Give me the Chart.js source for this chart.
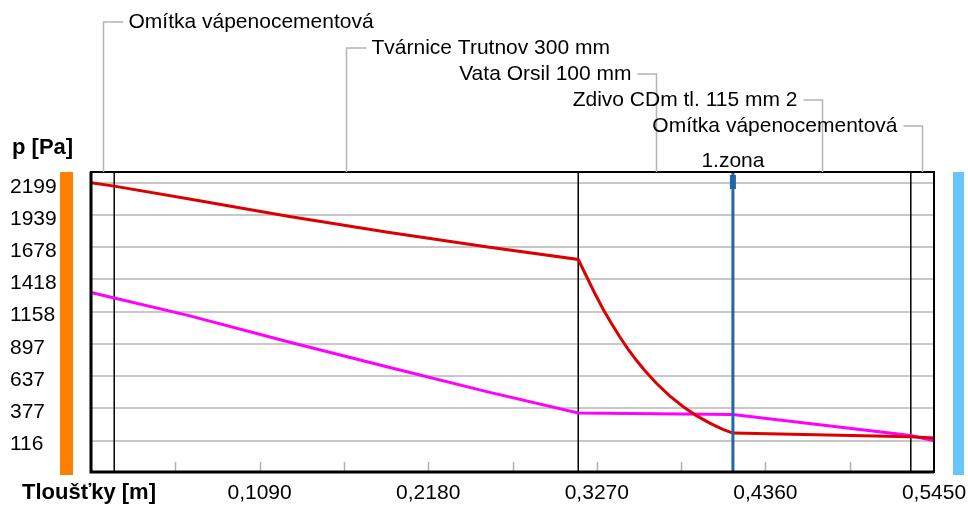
<!DOCTYPE html>
<html>
<head>
<meta charset="utf-8">
<script src="https://cdn.jsdelivr.net/npm/chart.js@4.4.0/dist/chart.umd.min.js"></script>
<style>
  html, body { margin: 0; padding: 0; background: #fff; }
  #wrap { width: 968px; height: 505px; }
</style>
</head>
<body>
<div id="wrap"><canvas id="chart" width="968" height="505"></canvas></div>
<script>
// Layers of the wall (thickness in m)
const layerBounds = [0, 0.015, 0.315, 0.415, 0.530, 0.545];
const layerNames = ['Omítka vápenocementová', 'Tvárnice Trutnov 300 mm', 'Vata Orsil 100 mm', 'Zdivo CDm tl. 115 mm 2', 'Omítka vápenocementová'];

// Condensation zone boundary
const zoneX = [0.415];
const zoneNames = ['1.zona'];

// Axis ticks
const yTicks = [116, 377, 637, 897, 1158, 1418, 1678, 1939, 2199];
const xLabelTicks = [0.109, 0.218, 0.327, 0.436, 0.545];
const xMinorTicks = [0.0545, 0.109, 0.1635, 0.218, 0.2725, 0.327, 0.3815, 0.436, 0.4905];

// Saturated vapour pressure (red)
const satX = [0, 0.015, 0.0627, 0.1273, 0.1919, 0.2565, 0.315, 0.3203, 0.3256, 0.331, 0.3364, 0.3418, 0.3472, 0.3526, 0.358, 0.3655, 0.3741, 0.3827, 0.3914, 0.400, 0.4085, 0.415, 0.530, 0.545];
const satP = [2199, 2172, 2070, 1929, 1800, 1681, 1580, 1444, 1309, 1180, 1065, 955, 855, 765, 683, 580, 478, 392, 318, 258, 208, 177, 148, 137];

// Partial vapour pressure (magenta)
const parX = [0, 0.015, 0.0627, 0.1273, 0.1919, 0.2565, 0.315, 0.415, 0.530, 0.545];
const parP = [1314, 1269, 1128, 915, 711, 510, 339, 327, 158, 116];

const FONT = "'Liberation Sans', Arial, sans-serif";

function toPoints(xs, ys) {
    return xs.map((x, i) => ({ x: x, y: ys[i] }));
}

const overlay = {
    id: 'overlay',
    beforeDatasetsDraw(chart) {
        const { ctx, chartArea: a, scales: { x } } = chart;
        ctx.save();
        // small tick marks at the bottom of the plot
        ctx.strokeStyle = '#b0b0b0';
        ctx.lineWidth = 1.5;
        xMinorTicks.forEach(v => {
            const px = Math.round(x.getPixelForValue(v)) + 0.5;
            ctx.beginPath();
            ctx.moveTo(px, a.bottom - 10);
            ctx.lineTo(px, a.bottom - 1);
            ctx.stroke();
        });
        // layer boundaries
        ctx.strokeStyle = '#000';
        ctx.lineWidth = 1.5;
        layerBounds.slice(1, -1).forEach(v => {
            const px = x.getPixelForValue(v);
            ctx.beginPath();
            ctx.moveTo(px, a.top);
            ctx.lineTo(px, a.bottom);
            ctx.stroke();
        });
        ctx.restore();
    },
    afterDatasetsDraw(chart) {
        const { ctx, chartArea: a, scales: { x } } = chart;
        ctx.save();

        // zone line
        zoneX.forEach((v, i) => {
            const px = x.getPixelForValue(v);
            ctx.strokeStyle = '#2366a6';
            ctx.lineWidth = 3;
            ctx.beginPath();
            ctx.moveTo(px, a.top);
            ctx.lineTo(px, a.bottom);
            ctx.stroke();
            ctx.fillStyle = '#2366a6';
            ctx.fillRect(px - 3, a.top + 3, 6, 14);
            ctx.fillStyle = '#000';
            ctx.font = '21px ' + FONT;
            ctx.textAlign = 'center';
            ctx.textBaseline = 'middle';
            ctx.fillText(zoneNames[i], px, a.top - 11);
        });

        // plot frame
        ctx.strokeStyle = '#000';
        ctx.lineWidth = 2;
        ctx.strokeRect(a.left, a.top, a.right - a.left, a.bottom - a.top);
        ctx.lineWidth = 3;
        ctx.beginPath();
        ctx.moveTo(a.left, a.top);
        ctx.lineTo(a.left, a.bottom);
        ctx.lineTo(a.right, a.bottom);
        ctx.stroke();

        // side bars (interior / exterior)
        ctx.fillStyle = '#ff8000';
        ctx.fillRect(a.left - 31, a.top, 13, a.bottom - a.top + 3);
        ctx.fillStyle = '#66c6ff';
        ctx.fillRect(a.right + 19, a.top, 11, a.bottom - a.top + 3);

        // layer labels with connectors
        ctx.font = '21px ' + FONT;
        ctx.textBaseline = 'middle';
        layerNames.forEach((name, i) => {
            const cx = Math.round(x.getPixelForValue((layerBounds[i] + layerBounds[i + 1]) / 2)) + 0.5;
            const ly = 22 + 26 * i;
            const toRight = i < 2;
            const hx = toRight ? cx + 20 : cx - 19;
            ctx.strokeStyle = '#b4b4b4';
            ctx.lineWidth = 1.5;
            ctx.beginPath();
            ctx.moveTo(cx, a.top);
            ctx.lineTo(cx, ly);
            ctx.lineTo(hx, ly);
            ctx.stroke();
            ctx.fillStyle = '#000';
            ctx.textAlign = toRight ? 'left' : 'right';
            ctx.fillText(name, toRight ? hx + 5 : hx - 6, ly);
        });

        // axis titles
        ctx.font = 'bold 22px ' + FONT;
        ctx.textAlign = 'left';
        ctx.fillStyle = '#000';
        ctx.fillText('p [Pa]', 12, 148);
        ctx.fillText('Tloušťky [m]', 22, 493);
        ctx.restore();
    }
};

const chart = new Chart(document.getElementById('chart'), {
    type: 'line',
    data: {
        datasets: [{
            label: 'p sat',
            data: toPoints(satX, satP),
            borderColor: '#dc0000',
            borderWidth: 3,
            pointRadius: 0,
            tension: 0
        }, {
            label: 'p',
            data: toPoints(parX, parP),
            borderColor: '#ff00ff',
            borderWidth: 3,
            pointRadius: 0,
            tension: 0
        }]
    },
    options: {
        responsive: false,
        animation: false,
        layout: { padding: { left: 10, right: 34, top: 172, bottom: 0 } },
        plugins: {
            legend: { display: false },
            tooltip: { enabled: false }
        },
        scales: {
            x: {
                type: 'linear',
                min: 0,
                max: 0.545,
                afterBuildTicks: s => { s.ticks = xLabelTicks.map(v => ({ value: v })); },
                afterFit: s => { s.height = 33; s.paddingLeft = 0; s.paddingRight = 0; },
                grid: { display: false },
                border: { display: false },
                ticks: {
                    color: '#000',
                    font: { family: FONT, size: 21 },
                    padding: 1,
                    maxRotation: 0,
                    autoSkip: false,
                    callback: v => v.toFixed(4).replace('.', ',')
                }
            },
            y: {
                min: -137,
                max: 2286,
                afterBuildTicks: s => { s.ticks = yTicks.map(v => ({ value: v })); },
                afterFit: s => { s.width = 81; s.paddingTop = 0; s.paddingBottom = 0; },
                grid: { color: '#c8c8c8', lineWidth: 2, drawTicks: false },
                border: { display: false },
                ticks: {
                    color: '#000',
                    font: { family: FONT, size: 21 },
                    crossAlign: 'far',
                    padding: 0,
                    labelOffset: 4,
                    autoSkip: false,
                    callback: v => String(v)
                }
            }
        }
    },
    plugins: [overlay]
});
</script>
</body>
</html>
